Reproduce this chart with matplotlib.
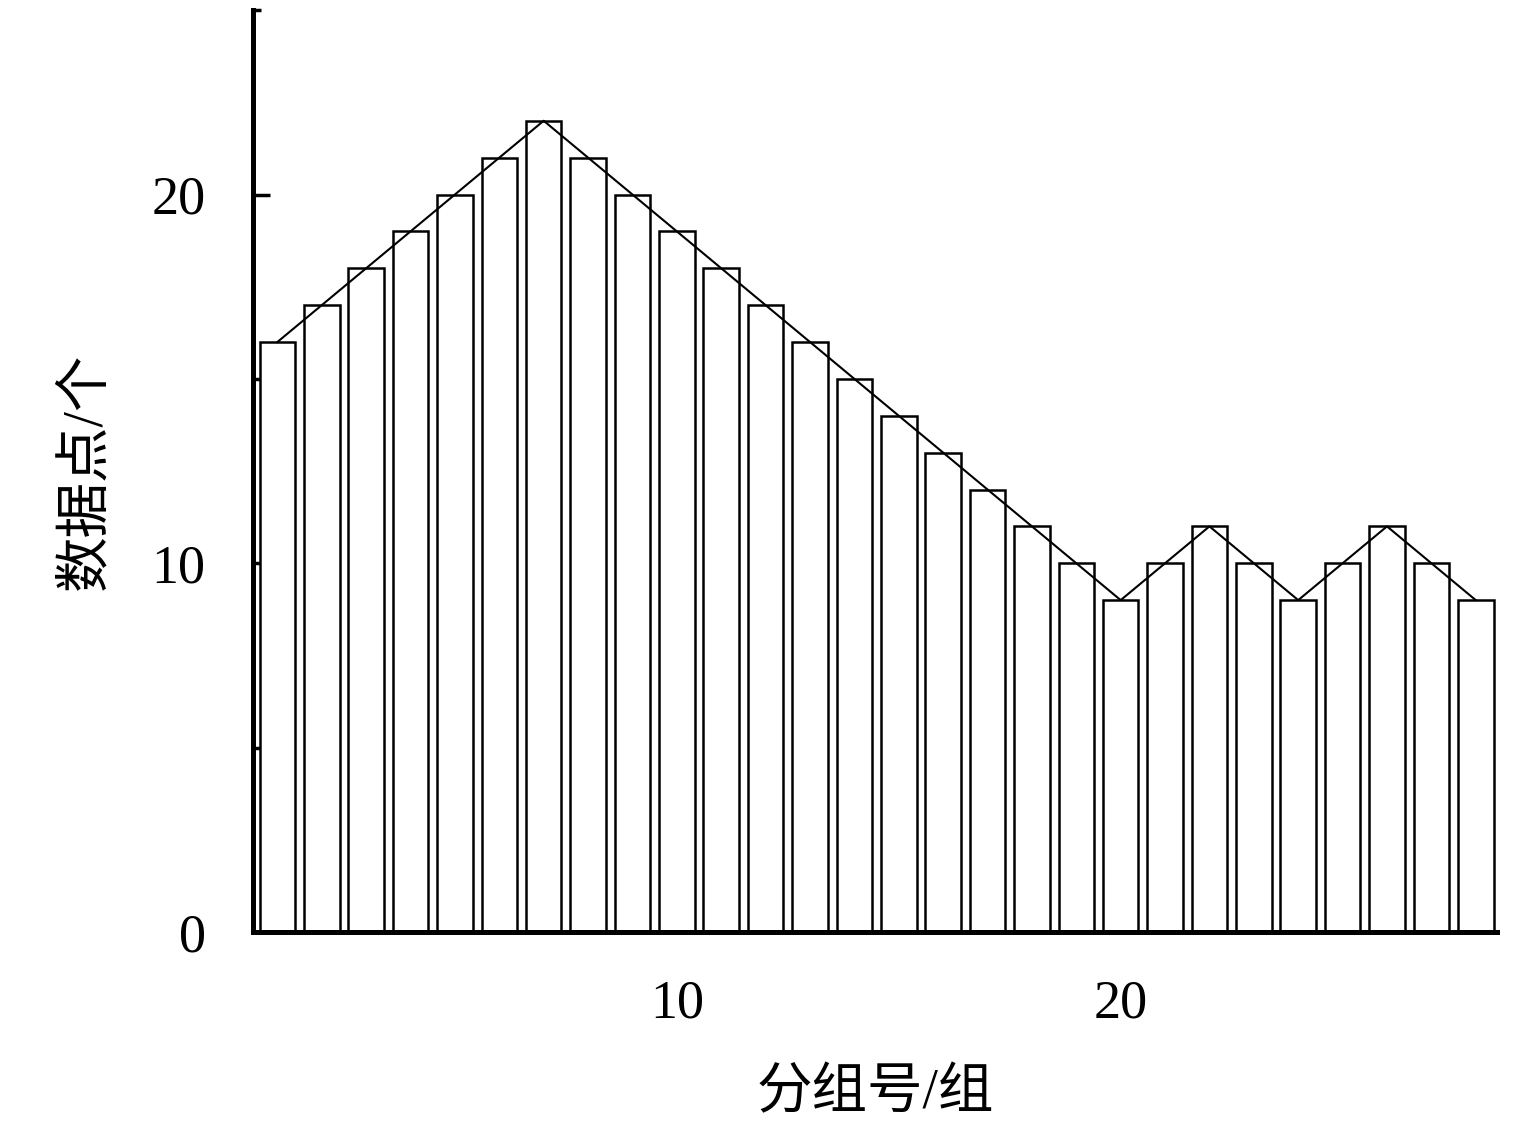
import matplotlib.pyplot as plt
import numpy as np
from matplotlib.ticker import MultipleLocator

# group numbers and number of data points per group
groups = list(range(1, 29))
counts = [16, 17, 18, 19, 20, 21, 22, 21, 20, 19, 18, 17, 16, 15, 14,
          13, 12, 11, 10, 9, 10, 11, 10, 9, 10, 11, 10, 9]

xlabel = '分组号/组'
ylabel = '数据点/个'

plt.rcParams['font.family'] = ['Liberation Serif', 'Noto Sans CJK SC']

fig = plt.figure(figsize=(15.35, 11.29), dpi=100)
ax = fig.add_axes([0.1648, 0.1745, 0.975 - 0.1648, 0.991 - 0.1745])

ax.bar(groups, counts, width=0.8, color='white', edgecolor='black', linewidth=1.8, zorder=2)
ax.plot(groups, counts, color='black', linewidth=1.5, zorder=3)

ax.set_xlim(0.45, 28.47)
ax.set_ylim(0, 25)

ax.spines['top'].set_visible(False)
ax.spines['right'].set_visible(False)
ax.spines['left'].set_linewidth(3.6)
ax.spines['bottom'].set_linewidth(3.6)

ax.xaxis.set_major_locator(MultipleLocator(10))
ax.xaxis.set_minor_locator(MultipleLocator(5))
ax.yaxis.set_major_locator(MultipleLocator(10))
ax.yaxis.set_minor_locator(MultipleLocator(5))
ax.tick_params(which='major', direction='in', length=12, width=2.5, labelsize=39, pad=34)
ax.tick_params(which='minor', direction='in', length=6, width=2.5)

ax.set_xlabel(xlabel, fontsize=40, labelpad=28)
ax.set_ylabel(ylabel, fontsize=40, labelpad=28)

fig.savefig('out.png', dpi=100)
